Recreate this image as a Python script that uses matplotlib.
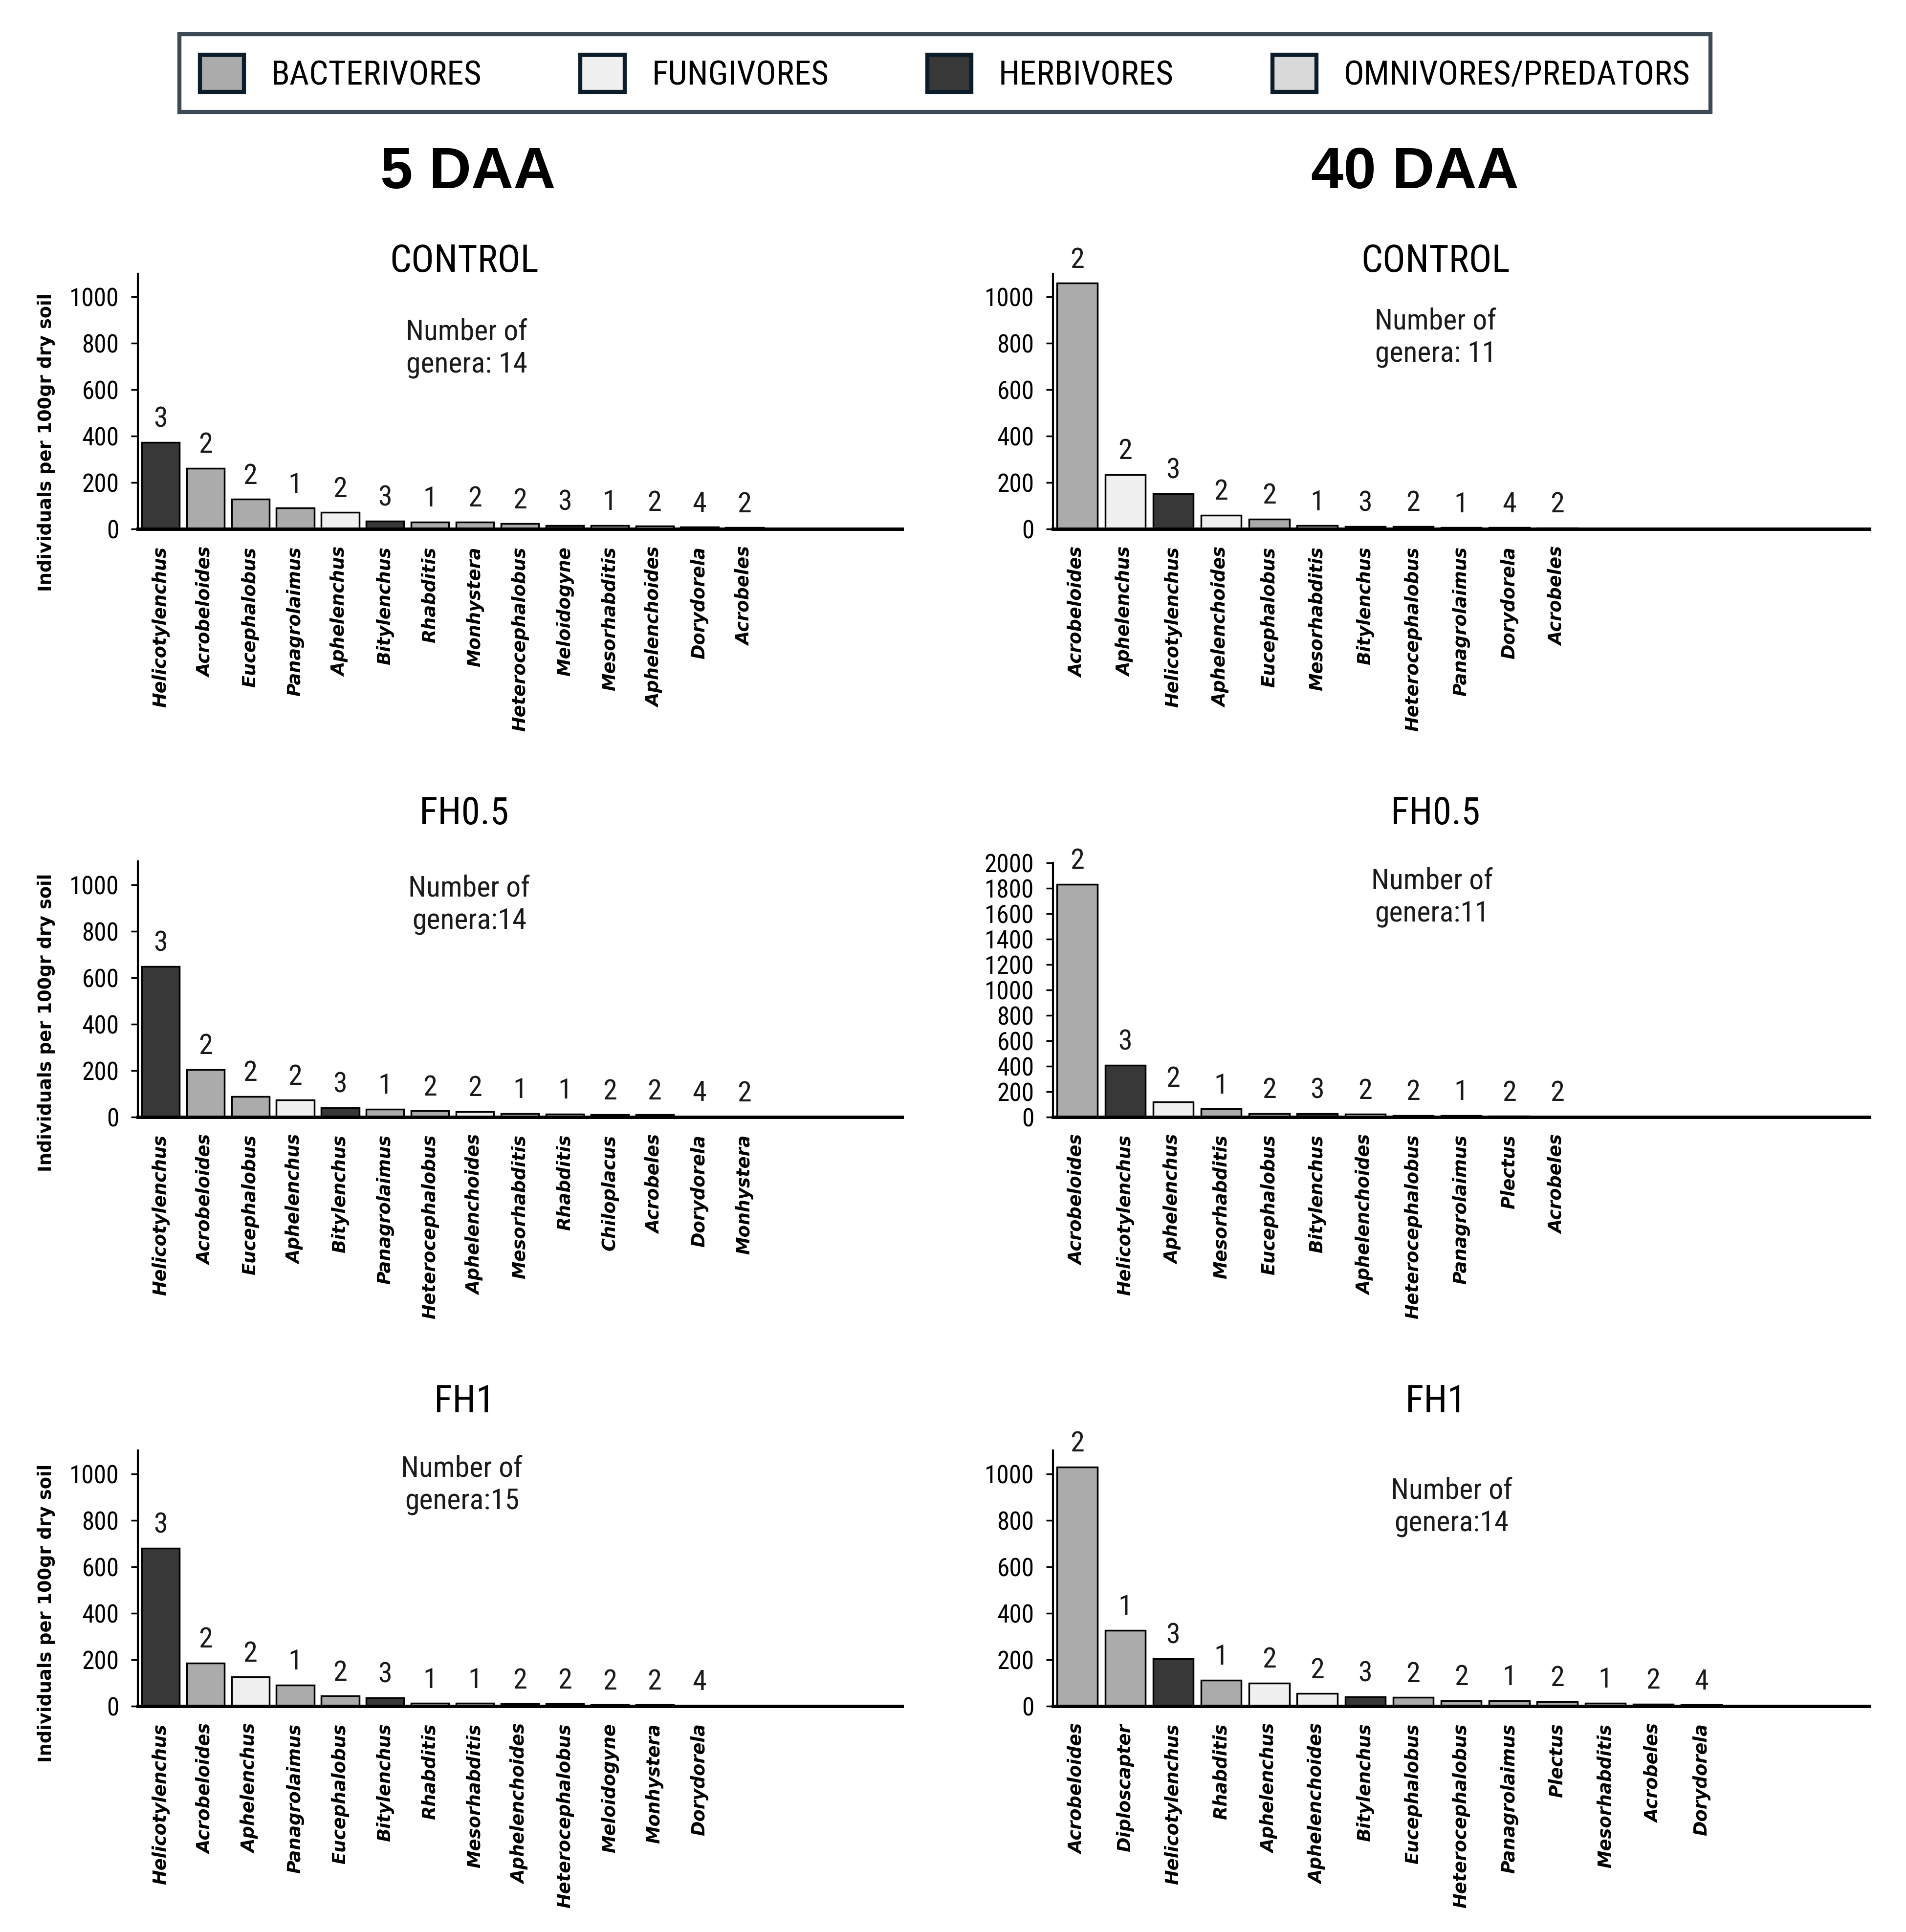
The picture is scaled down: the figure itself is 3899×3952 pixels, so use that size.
import matplotlib
matplotlib.use("Agg")
import matplotlib.pyplot as plt
from matplotlib.patches import Patch
from matplotlib import font_manager

# ---- data -------------------------------------------------------------
group_names = ["BACTERIVORES", "FUNGIVORES", "HERBIVORES", "OMNIVORES/PREDATORS"]
group_colors = ["#ababab", "#f0f0f0", "#383838", "#d9d9d9"]

feeding = {
    "Acrobeloides": 0, "Eucephalobus": 0, "Panagrolaimus": 0, "Rhabditis": 0,
    "Monhystera": 0, "Heterocephalobus": 0, "Mesorhabditis": 0, "Acrobeles": 0,
    "Chiloplacus": 0, "Plectus": 0, "Diploscapter": 0,
    "Aphelenchus": 1, "Aphelenchoides": 1,
    "Helicotylenchus": 2, "Bitylenchus": 2, "Meloidogyne": 2,
    "Dorydorela": 3,
}

# 5 DAA - CONTROL
g_5_ctrl = ["Helicotylenchus", "Acrobeloides", "Eucephalobus", "Panagrolaimus",
            "Aphelenchus", "Bitylenchus", "Rhabditis", "Monhystera",
            "Heterocephalobus", "Meloidogyne", "Mesorhabditis", "Aphelenchoides",
            "Dorydorela", "Acrobeles"]
v_5_ctrl = [373, 262, 129, 91, 72, 35, 31, 31, 24, 16, 16, 13, 9, 7]
cp_5_ctrl = [3, 2, 2, 1, 2, 3, 1, 2, 2, 3, 1, 2, 4, 2]

# 40 DAA - CONTROL
g_40_ctrl = ["Acrobeloides", "Aphelenchus", "Helicotylenchus", "Aphelenchoides",
             "Eucephalobus", "Mesorhabditis", "Bitylenchus", "Heterocephalobus",
             "Panagrolaimus", "Dorydorela", "Acrobeles"]
v_40_ctrl = [1059, 235, 153, 60, 43, 15, 12, 12, 7, 7, 6]
cp_40_ctrl = [2, 2, 3, 2, 2, 1, 3, 2, 1, 4, 2]

# 5 DAA - FH0.5
g_5_fh05 = ["Helicotylenchus", "Acrobeloides", "Eucephalobus", "Aphelenchus",
            "Bitylenchus", "Panagrolaimus", "Heterocephalobus", "Aphelenchoides",
            "Mesorhabditis", "Rhabditis", "Chiloplacus", "Acrobeles",
            "Dorydorela", "Monhystera"]
v_5_fh05 = [648, 204, 88, 73, 40, 34, 26, 23, 15, 13, 9, 9, 2, 1]
cp_5_fh05 = [3, 2, 2, 2, 3, 1, 2, 2, 1, 1, 2, 2, 4, 2]

# 40 DAA - FH0.5
g_40_fh05 = ["Acrobeloides", "Helicotylenchus", "Aphelenchus", "Mesorhabditis",
             "Eucephalobus", "Bitylenchus", "Aphelenchoides", "Heterocephalobus",
             "Panagrolaimus", "Plectus", "Acrobeles"]
v_40_fh05 = [1831, 407, 118, 64, 27, 27, 21, 11, 11, 5, 3]
cp_40_fh05 = [2, 3, 2, 1, 2, 3, 2, 2, 1, 2, 2]

# 5 DAA - FH1
g_5_fh1 = ["Helicotylenchus", "Acrobeloides", "Aphelenchus", "Panagrolaimus",
           "Eucephalobus", "Bitylenchus", "Rhabditis", "Mesorhabditis",
           "Aphelenchoides", "Heterocephalobus", "Meloidogyne", "Monhystera",
           "Dorydorela"]
v_5_fh1 = [680, 185, 125, 90, 43, 34, 11, 11, 9, 9, 5, 5, 2]
cp_5_fh1 = [3, 2, 2, 1, 2, 3, 1, 1, 2, 2, 2, 2, 4]

# 40 DAA - FH1
g_40_fh1 = ["Acrobeloides", "Diploscapter", "Helicotylenchus", "Rhabditis",
            "Aphelenchus", "Aphelenchoides", "Bitylenchus", "Eucephalobus",
            "Heterocephalobus", "Panagrolaimus", "Plectus", "Mesorhabditis",
            "Acrobeles", "Dorydorela"]
v_40_fh1 = [1029, 326, 204, 111, 99, 53, 39, 36, 23, 23, 19, 12, 8, 5]
cp_40_fh1 = [2, 1, 3, 1, 2, 2, 3, 2, 2, 1, 2, 1, 2, 4]

genera_notes = ["Number of\ngenera: 14", "Number of\ngenera: 11",
                "Number of\ngenera:14", "Number of\ngenera:11",
                "Number of\ngenera:15", "Number of\ngenera:14"]
treatments = ["CONTROL", "FH0.5", "FH1"]
times = ["5 DAA", "40 DAA"]

# ---- fonts --------------------------------------------------------------
available = {f.name for f in font_manager.fontManager.ttflist}
narrow = next((n for n in ["Liberation Sans Narrow", "Roboto Condensed",
                           "Open Sans Condensed", "Liberation Sans"]
               if n in available), "DejaVu Sans")
plt.rcParams["font.family"] = [narrow, "DejaVu Sans"]

# ---- figure layout (reference measured on a 1560 x 1581 grid) ----------
W, H = 1560.0, 1581.0
fig = plt.figure(figsize=(38.99, 39.52), dpi=100)

panels = [
    (g_5_ctrl, v_5_ctrl, cp_5_ctrl), (g_40_ctrl, v_40_ctrl, cp_40_ctrl),
    (g_5_fh05, v_5_fh05, cp_5_fh05), (g_40_fh05, v_40_fh05, cp_40_fh05),
    (g_5_fh1, v_5_fh1, cp_5_fh1), (g_40_fh1, v_40_fh1, cp_40_fh1),
]
col_x = [(113, 738), (862, 1530)]
row_base = [433, 914, 1396]
title_y = [214, 666, 1147]
title_x = [380, 1175]
note_pos = [(382, 285), (1175, 276), (384, 740), (1172, 734), (378, 1215), (1188, 1233)]
ylabel_y = [362, 837, 1320]

for i, (names, vals, cps) in enumerate(panels):
    r, c = divmod(i, 2)
    x0, x1 = col_x[c]
    ymax = 2000 if (r == 1 and c == 1) else 1100
    px_h = 208 if ymax == 2000 else 209
    ax = fig.add_axes([x0 / W, 1 - row_base[r] / H, (x1 - x0) / W, px_h / H])
    colors = [group_colors[feeding[n]] for n in names]
    bars = ax.bar(range(len(names)), vals, width=0.84, color=colors,
                  edgecolor="black", linewidth=2.5)
    ax.bar_label(bars, labels=[str(v) for v in cps], padding=14, fontsize=42,
                 color="#1a1a1a")
    ax.set_xlim(-0.5, 16.5)
    ax.set_ylim(0, ymax)
    ax.set_yticks(range(0, ymax + 1, 200) if ymax == 2000 else range(0, 1001, 200))
    ax.set_xticks(range(len(names)))
    ax.set_xticklabels(names, rotation=90, fontsize=26.5, fontweight="bold",
                       fontstyle="italic", family="DejaVu Sans", va="top")
    ax.tick_params(axis="x", length=0, pad=26)
    ax.tick_params(axis="y", length=10, width=2.5, direction="out", pad=18,
                   labelsize=37)
    for s in ("top", "right"):
        ax.spines[s].set_visible(False)
    ax.spines["left"].set_linewidth(3)
    ax.spines["bottom"].set_linewidth(5)
    ax.set_facecolor("none")

    fig.text(title_x[c] / W, 1 - title_y[r] / H, treatments[r], fontsize=56,
             ha="center", va="center")
    nx, ny = note_pos[i]
    fig.text(nx / W, 1 - ny / H, genera_notes[i], fontsize=43, ha="center",
             va="center", color="#1a1a1a", linespacing=1.2)
    if c == 0:
        fig.text(38 / W, 1 - ylabel_y[r] / H, "Individuals per 100gr dry soil",
                 rotation=90, fontsize=26.5, fontweight="bold", family="DejaVu Sans",
                 ha="center", va="center")

for t, xc in zip(times, [383, 1158]):
    fig.text(xc / W, 1 - 142 / H, t, fontsize=86, fontweight="bold",
             family=["Liberation Sans", "DejaVu Sans"], ha="center", va="center")

handles = [Patch(facecolor=col, edgecolor="#0b1d2a", linewidth=6)
           for col in group_colors]
leg = fig.legend(handles, group_names, loc="center",
                 bbox_to_anchor=(147 / W, 1 - 93 / H, (1400 - 147) / W, 66 / H),
                 mode="expand", ncol=4, prop={"family": narrow, "size": 50},
                 handlelength=1.3, handleheight=1.3, handletextpad=0.8,
                 borderpad=0.6, borderaxespad=0.0, frameon=True, fancybox=False)
leg.get_frame().set_edgecolor("#0b1d2a")
leg.get_frame().set_linewidth(6)

fig.savefig("out.png", dpi=100, facecolor="white")
